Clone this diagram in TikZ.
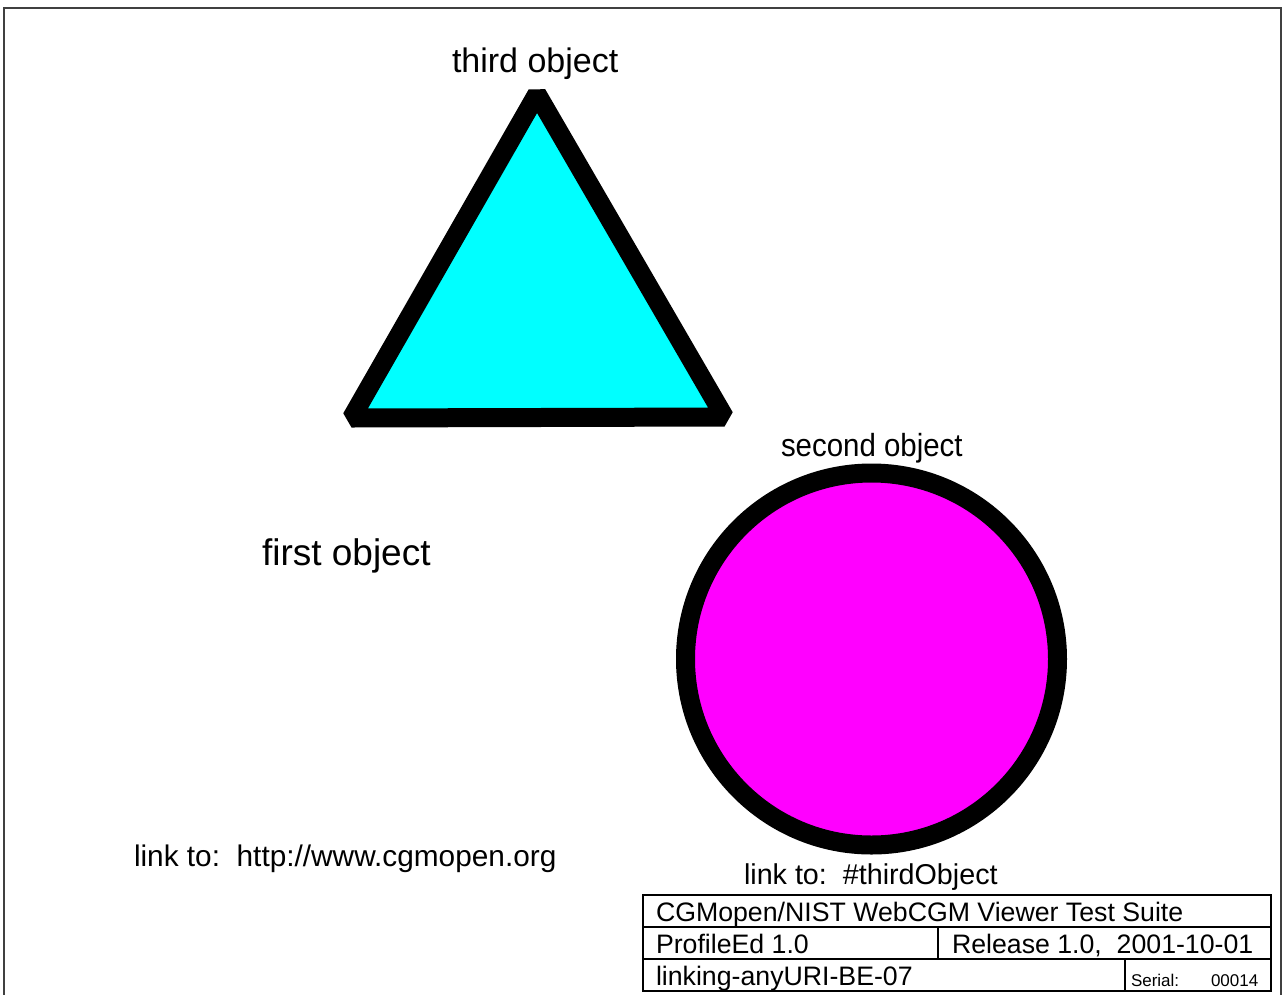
\documentclass[tikz,border=0pt]{standalone}
\usepackage{fontspec}
\setmainfont{Liberation Sans}
\definecolor{cyanfill}{HTML}{00FFFF}
\definecolor{magfill}{HTML}{FF00FF}
\begin{document}
\begin{tikzpicture}[x=1pt,y=-1pt,
  lbl/.style={inner sep=0pt,outer sep=0pt,anchor=base west,font=#1},
  lbl/.default={\fontsize{29}{34}\selectfont},
  frame/.style={line width=1.5pt,draw=black},
  shapeline/.style={line width=19pt,draw=black,line join=bevel}]
\useasboundingbox (0,0) rectangle (1283,994);
\draw[line width=2pt,draw=black!75] (4,996) -- (4,8) -- (1281,8) -- (1281,996);
% triangle
\draw[shapeline,fill=cyanfill] (537,94) -- (724.5,417) -- (351.5,418) -- cycle;
% circle
\draw[shapeline,fill=magfill] (871.5,659) circle[radius=186];
% labels
\node[lbl={\fontsize{34}{40}\selectfont}] (third) at (452,72) {third object};
\node[lbl={\fontsize{32}{38}\selectfont},xscale=0.92] (second) at (781,456) {second object};
\node[lbl={\fontsize{37}{44}\selectfont}] (first) at (262,565) {first object};
\node[lbl={\fontsize{29.8}{35}\selectfont}] (link1) at (134,866) {link to:\ \ http://www.cgmopen.org};
\node[lbl={\fontsize{28.7}{34}\selectfont}] (link2) at (744,884) {link to:\ \ \#thirdObject};
% title block
\draw[frame] (643,895) rectangle (1271,991);
\draw[frame] (643,927) -- (1271,927);
\draw[frame] (643,959) -- (1271,959);
\draw[frame] (938,927) -- (938,959);
\draw[frame] (1125,959) -- (1125,991);
\node[lbl={\fontsize{26.7}{32}\selectfont}] (tb1) at (656,921) {CGMopen/NIST WebCGM Viewer Test Suite};
\node[lbl={\fontsize{26.7}{32}\selectfont}] (tb2) at (656,953) {ProfileEd 1.0};
\node[lbl={\fontsize{26.7}{32}\selectfont}] (tb3) at (952,953) {Release 1.0,\ \ 2001-10-01};
\node[lbl={\fontsize{26.7}{32}\selectfont}] (tb4) at (656,985) {linking-anyURI-BE-07};
\node[lbl={\fontsize{17}{20}\selectfont}] (tb5) at (1131,986) {Serial:};
\node[lbl={\fontsize{17}{20}\selectfont}] (tb6) at (1211,986) {00014};
\end{tikzpicture}
\end{document}
